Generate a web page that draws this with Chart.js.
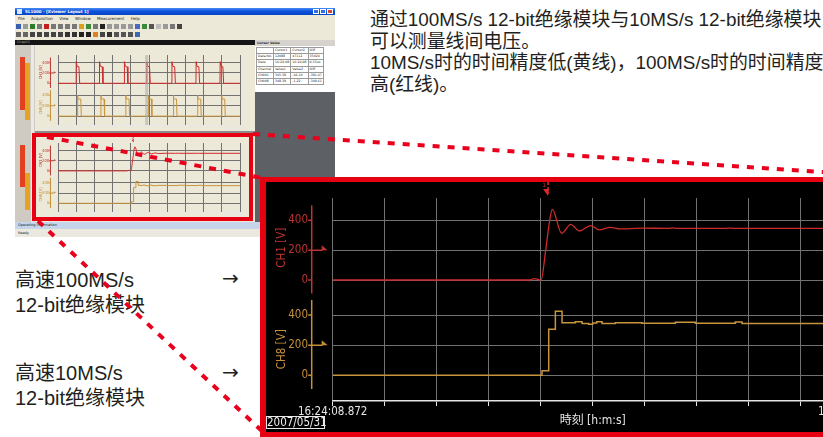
<!DOCTYPE html>
<html>
<head>
<meta charset="utf-8">
<script src="https://cdn.jsdelivr.net/npm/chart.js@4.4.1/dist/chart.umd.min.js"></script>
<style>
html,body{margin:0;padding:0;}
body{width:823px;height:437px;overflow:hidden;background:#fff;position:relative;
  font-family:'Liberation Sans','Noto Sans CJK SC',sans-serif;color:#231f20;}
.abs{position:absolute;}
#note{left:370px;top:9px;font-size:18.9px;line-height:21.7px;white-space:nowrap;}
.lbl{left:15px;font-size:20px;line-height:25px;white-space:nowrap;}
.arrow{left:222px;font-family:'DejaVu Sans',sans-serif;font-size:20px;line-height:20px;}

/* recorder window */
#thumb{left:15px;top:8px;width:320px;height:229px;background:#ece9d8;overflow:hidden;z-index:1;}
#thumb div,#thumb canvas{position:absolute;}
.tbar{left:0;top:0;width:320px;height:7px;background:linear-gradient(#4a8cf5,#0b52dc 45%,#0846c4);
  color:#fff;font:bold 4px 'DejaVu Sans',sans-serif;line-height:7px;padding-left:10px;box-sizing:border-box;}
.tbar .ico{left:2px;top:1px;width:5px;height:5px;background:#d8e4f8;}
.wbtn{top:1px;width:6px;height:5px;border:1px solid #fff;box-sizing:border-box;background:#2f6fe8;}
.menu{left:0;top:7px;width:320px;height:7px;font:4px 'DejaVu Sans',sans-serif;line-height:7px;word-spacing:5px;padding-left:3px;box-sizing:border-box;}
.tools{left:0;height:8px;width:320px;}
.tools span{display:inline-block;width:5px;height:5px;margin:1.5px 1px 0 1px;vertical-align:top;}
.doc{left:0;top:32px;width:240px;height:5px;background:#151515;color:#999;font:3.5px 'DejaVu Sans',sans-serif;line-height:5px;padding-left:2px;box-sizing:border-box;}
.strip{left:0;top:37px;width:20px;height:177px;background:#cfcbc3;}
.meter{width:5px;}
.cpanel{left:240px;top:32px;width:80px;height:52px;background:#fff;font:3.2px 'DejaVu Sans',sans-serif;}
.cpanel table{position:absolute;left:1px;top:7px;border-collapse:collapse;}
.cpanel td{border:0.5px solid #9a9a9a;padding:0 1px;height:5.2px;line-height:5px;white-space:nowrap;}
.chead{left:0;top:0;width:80px;height:6px;background:#d6d3ce;font-weight:bold;line-height:6px;padding-left:2px;box-sizing:border-box;}
.grey{left:240px;top:84px;width:80px;height:130px;background:#5d6064;}
.st1{left:0;top:214px;width:320px;height:7px;background:#c6d5ec;font:3.5px 'DejaVu Sans',sans-serif;line-height:7px;padding-left:3px;box-sizing:border-box;}
.st2{left:0;top:222px;width:320px;height:7px;background:#ebe8e0;font:3.5px 'DejaVu Sans',sans-serif;line-height:7px;padding-left:3px;box-sizing:border-box;}
#focus{left:32px;top:133px;width:221px;height:88px;border:4px solid #e60012;box-sizing:border-box;z-index:2;}

/* enlarged waveform panel */
#panel{left:260px;top:177px;width:600px;height:250px;background:#000;border:solid #e60012;border-width:5px 0 5px 6px;z-index:3;}
#panel canvas{position:absolute;left:0;top:0;}
#dateBox{position:absolute;left:0;top:234px;width:59px;height:13px;border:1px solid #e8e8e8;box-sizing:border-box;
  color:#f0f0f0;font:11.5px 'DejaVu Sans Condensed','DejaVu Sans',sans-serif;line-height:11px;text-align:center;}
#links{left:0;top:0;z-index:4;}
</style>
</head>
<body>

<div id="note" class="abs">通过100MS/s 12-bit绝缘模块与10MS/s 12-bit绝缘模块<br>可以测量线间电压。<br>10MS/s时的时间精度低(黄线)，100MS/s时的时间精度<br>高(红线)。</div>

<div class="abs lbl" style="top:267.5px">高速100MS/s<br>12-bit绝缘模块</div>
<div class="abs lbl" style="top:361px">高速10MS/s<br>12-bit绝缘模块</div>
<div class="abs arrow" style="top:268px">→</div>
<div class="abs arrow" style="top:361.5px">→</div>

<div id="thumb" class="abs">
  <div class="tbar"><div class="ico"></div>SL1000 - [Xviewer Layout 1]
    <div class="wbtn" style="left:298px"></div><div class="wbtn" style="left:305px"></div><div class="wbtn" style="left:312px;background:#d9482a"></div>
  </div>
  <div class="menu">File Acquisition View Window Measurement Help</div>
  <div class="tools" id="tools1" style="top:14px"></div>
  <div class="tools" id="tools2" style="top:22px"></div>
  <div class="doc">Graph1</div>
  <div class="strip">
    <div class="meter" style="left:5px;top:12px;height:53px;background:#e2401f"></div>
    <div class="meter" style="left:10px;top:18px;height:57px;background:#e6a321"></div>
    <div class="meter" style="left:5px;top:100px;height:42px;background:#e2401f"></div>
    <div class="meter" style="left:10px;top:128px;height:37px;background:#e6a321"></div>
    <div style="left:16px;top:0;width:3px;height:177px;background:#ebe9e4"></div>
  </div>
  <canvas id="ovTop" width="217" height="86" style="left:20px;top:37px"></canvas>
  <div style="left:20px;top:123px;width:220px;height:2px;background:#8c8c8c"></div>
  <canvas id="ovBottom" width="217" height="87" style="left:20px;top:125px"></canvas>
  <div class="cpanel">
    <div class="chead">Cursor Value</div>
    <table>
      <tr><td></td><td>Cursor1</td><td>Cursor2</td><td>Diff</td></tr>
      <tr><td>Data No.</td><td>12088</td><td>47112</td><td>35024</td></tr>
      <tr><td>Date</td><td>16:24:08</td><td>16:24:08</td><td>0.35us</td></tr>
      <tr><td>Channel</td><td>Value1</td><td>Value2</td><td>Diff</td></tr>
      <tr><td>CH001</td><td>345.38</td><td>-46.10</td><td>-391.47</td></tr>
      <tr><td>CH008</td><td>348.39</td><td>-1.22</td><td>-349.61</td></tr>
    </table>
  </div>
  <div class="grey"></div>
  <div class="st1">Operating Information</div>
  <div class="st2">Ready</div>
</div>
<div id="focus" class="abs"></div>

<div id="panel" class="abs">
  <canvas id="wave" width="640" height="250"></canvas>
  <div id="dateBox">2007/05/31</div>
</div>

<svg id="links" class="abs" width="823" height="437">
  <g stroke="#e8001c" stroke-width="4" stroke-dasharray="7 8" fill="none">
    <line x1="253" y1="134" x2="823" y2="172"/>
    <line x1="47" y1="137" x2="262" y2="178"/>
    <line x1="38" y1="221" x2="264" y2="433"/>
  </g>
</svg>

<script>
// ---------- waveform data ----------
const timeLabels = ['16:24:08.872', '16:24:08.872'];   // start / end of the time window
const timeDivNs = 780;                                  // one grid division
const timeSpanNs = 7800;                                // ten divisions
const voltTicks = [0, 200, 400];
const ch1Range = [-117, 549];
const ch8Range = [-170, 516];
const axisSpan = [-90, 500];
const levelMark = 200;
const triggerTimeNs = 3230;

// CH1: 100MS/s 12-bit isolation module
const ch1TimeNs = [0, 2960, 3020, 3095, 3125, 3195, 3255, 3294, 3435, 3570, 3699, 3870, 3999, 4160, 4310, 4620, 5040, 5100, 5160, 5900, 5960, 6020, 7800];
const ch1Volts  = [0,    0,   10,    2,    0,  200,  400,  473,  313,  373,  328,  364,  335,  353,  342,  347,  346,  349,  346,  346,  348,  346,  346];

// CH8: 10MS/s 12-bit isolation module (held samples)
const ch8TimeNs = [0, 3140, 3240, 3340, 3440, 3640, 3740, 3840, 3900, 3960, 4040, 4240, 4640, 5140, 5440, 6040, 6140, 7800];
const ch8Volts  = [0,   30,  305,  425,  349,  355,  344,  338,  347,  355,  343,  349,  346,  352,  346,  353,  344,  344];

// overview window: repeated switching pulses
const overviewSpan = 100;
const overviewDiv = 10;
const overviewPulseStarts = [9.9, 22.7, 36.4, 48.7, 62.5, 75.8, 89.0];
const overviewCursor = 48.7;
const pulseCh1Dt = [0, 0.1, 0.6, 1.6, 2.0];
const pulseCh1V  = [0, 420, 330, 320, 0];
const pulseCh8Dt = [0.8, 0.9, 1.1, 2.6, 2.9];
const pulseCh8V  = [0, 400, 330, 330, 0];

// ---------- styling ----------
const CH1_COLOR = '#cf2b2b';
const CH1_TEXT = '#bb3531';
const CH8_COLOR = '#c8953d';
const CH8_TEXT = '#c4903a';
const GRID = '#727272';
const AXIS_WHITE = '#e6e6e6';
const NUM_FONT = "'DejaVu Sans Condensed','DejaVu Sans',sans-serif";

const zip = (xs, ys) => xs.map((x, i) => ({x, y: ys[i]}));

function pulseTrain(dts, vs, span) {
  const pts = [{x: 0, y: 0}];
  overviewPulseStarts.forEach(s => dts.forEach((d, i) => pts.push({x: s + d, y: vs[i]})));
  pts.push({x: span, y: 0});
  return pts;
}

// channel axis lines, level markers and trigger mark drawn beside the plot
const channelAxisPlugin = {
  id: 'channelAxis',
  afterDraw(chart, args, o) {
    const {ctx, chartArea: area} = chart;
    const k = o.k;
    const ax = area.left - 21 * k;
    ctx.save();
    o.channels.forEach(ch => {
      const sc = chart.scales[ch.axis];
      ctx.strokeStyle = ch.color;
      ctx.fillStyle = ch.color;
      ctx.lineWidth = Math.max(1, 1.5 * k);
      ctx.beginPath();
      ctx.moveTo(ax, sc.getPixelForValue(axisSpan[1]));
      ctx.lineTo(ax, sc.getPixelForValue(axisSpan[0]));
      voltTicks.forEach(v => {
        const y = sc.getPixelForValue(v);
        ctx.moveTo(ax - 3.5 * k, y);
        ctx.lineTo(ax, y);
      });
      const ym = sc.getPixelForValue(levelMark);
      ctx.moveTo(ax, ym);
      ctx.lineTo(ax + 11 * k, ym);
      ctx.stroke();
      ctx.beginPath();
      ctx.moveTo(ax + 10 * k, ym);
      ctx.lineTo(ax + 10 * k, ym - 5 * k);
      ctx.lineTo(ax + 16 * k, ym);
      ctx.closePath();
      ctx.fill();
    });
    const xs = chart.scales.x;
    if (o.cursor !== undefined) {
      const xc = xs.getPixelForValue(o.cursor);
      ctx.fillStyle = 'rgba(170,170,170,0.55)';
      ctx.fillRect(xc - 1.5, area.top, 3, area.bottom - area.top);
    }
    if (o.trigger !== undefined) {
      const xt = xs.getPixelForValue(o.trigger);
      ctx.strokeStyle = '#e02828';
      ctx.fillStyle = '#e02828';
      ctx.lineWidth = Math.max(1, 1.5 * k);
      ctx.setLineDash([3 * k, 2 * k]);
      ctx.beginPath();
      ctx.moveTo(xt, area.top - 16 * k);
      ctx.lineTo(xt, area.top - 4 * k);
      ctx.stroke();
      ctx.setLineDash([]);
      ctx.beginPath();
      ctx.moveTo(xt - 5 * k, area.top - 9 * k);
      ctx.lineTo(xt + 1 * k, area.top - 9 * k);
      ctx.lineTo(xt, area.top - 2 * k);
      ctx.closePath();
      ctx.fill();
      ctx.font = `${6 * k}px ${NUM_FONT}`;
      ctx.textAlign = 'right';
      ctx.textBaseline = 'top';
      ctx.fillText('1', xt - 2 * k, area.top - 16 * k);
    }
    ctx.restore();
  }
};

function channelChart(canvas, o) {
  const k = o.k;
  const f = (size) => ({family: NUM_FONT, size: size * k});
  const yAxis = (range, weight, order, color, title) => ({
    type: 'linear', position: 'left', stack: 'ch', stackWeight: weight, weight: order,
    min: range[0], max: range[1],
    afterBuildTicks: s => { s.ticks = voltTicks.map(v => ({value: v})); },
    afterFit: s => { s.width = o.yWidth; s.paddingTop = 0; s.paddingBottom = 0; },
    ticks: {color, font: f(11.5), padding: 24.7 * k, callback: v => String(v)},
    grid: {color: GRID, lineWidth: 1, drawTicks: false},
    border: {display: false},
    title: {display: true, text: title, color, font: f(11.5), padding: {top: 8.8 * k, bottom: 0}}
  });
  return new Chart(canvas, {
    type: 'line',
    data: {datasets: [
      {data: o.ch1, yAxisID: 'yCh1', borderColor: CH1_COLOR, borderWidth: Math.max(1, 1.3 * k),
       pointRadius: 0, cubicInterpolationMode: o.smooth ? 'monotone' : 'default', tension: 0},
      {data: o.ch8, yAxisID: 'yCh8', borderColor: CH8_COLOR, borderWidth: Math.max(1, 1.5 * k),
       pointRadius: 0, stepped: o.stepped ? true : false, tension: 0}
    ]},
    options: {
      responsive: false, animation: false, devicePixelRatio: 1, parsing: false,
      layout: {padding: {top: o.top, right: o.right, left: 0, bottom: 0}},
      plugins: {
        legend: {display: false}, tooltip: {enabled: false},
        channelAxis: {k, cursor: o.cursor, trigger: o.trigger, channels: [
          {axis: 'yCh1', color: CH1_TEXT}, {axis: 'yCh8', color: CH8_TEXT}]}
      },
      scales: {
        x: {
          type: 'linear', min: 0, max: o.span,
          afterFit: s => { s.height = o.xHeight; s.paddingLeft = 0; s.paddingRight = 0; },
          ticks: {stepSize: o.div, autoSkip: false, maxRotation: 0, color: AXIS_WHITE, font: f(11.5), padding: -1 * k,
                  callback: (v, i, t) => i === 0 ? timeLabels[0] : (i === t.length - 1 ? timeLabels[1] : '')},
          grid: {color: GRID, tickColor: AXIS_WHITE, tickLength: 5 * k, lineWidth: 1},
          border: {color: AXIS_WHITE, width: Math.max(1, 1.5 * k)},
          title: {display: o.xTitle, text: '時刻 [h:m:s]', color: AXIS_WHITE,
                  font: {family: "'DejaVu Sans Condensed','Noto Sans CJK JP',sans-serif", size: 12 * k},
                  padding: {top: 0, bottom: 3.5 * k}}
        },
        yCh8: yAxis(ch8Range, 103.5, 0, CH8_TEXT, 'CH8 [V]'),
        yCh1: yAxis(ch1Range, 99.5, 1, CH1_TEXT, 'CH1 [V]')
      }
    },
    plugins: [channelAxisPlugin]
  });
}

// enlarged view
channelChart(document.getElementById('wave'), {
  k: 1, top: 16, right: 53.3, yWidth: 66.7, xHeight: 31, xTitle: true,
  span: timeSpanNs, div: timeDivNs, smooth: true, stepped: true, trigger: triggerTimeNs,
  ch1: zip(ch1TimeNs, ch1Volts), ch8: zip(ch8TimeNs, ch8Volts)
});

// recorder window: overview and zoomed windows
channelChart(document.getElementById('ovTop'), {
  k: 0.36, top: 10, right: 12, yWidth: 23, xHeight: 6, xTitle: false,
  span: overviewSpan, div: overviewDiv, smooth: false, stepped: false, cursor: overviewCursor,
  ch1: pulseTrain(pulseCh1Dt, pulseCh1V, overviewSpan), ch8: pulseTrain(pulseCh8Dt, pulseCh8V, overviewSpan)
});
channelChart(document.getElementById('ovBottom'), {
  k: 0.36, top: 10, right: 12, yWidth: 23, xHeight: 8, xTitle: false,
  span: timeSpanNs, div: timeDivNs, smooth: true, stepped: true, trigger: triggerTimeNs,
  ch1: zip(ch1TimeNs, ch1Volts), ch8: zip(ch8TimeNs, ch8Volts)
});

// toolbar buttons of the recorder window
const toolColors1 = ['#3a5fb0','#9a9a9a','#2c7a2c','#777','#c02020','#777','#777','#777','#777','#d9a020','#3a8a3a','#777','#222','#999','#999','#999','#999','#4a6ac0','#3a8a3a','#555','#bbb','#999','#777','#444'];
const toolColors2 = ['#666','#666','#444','#444','#444','#444','#444','#333','#333','#222','#222','#e08020','#444','#333','#555','#555','#555','#3a6ab0'];
[['tools1', toolColors1], ['tools2', toolColors2]].forEach(([id, cols]) => {
  const el = document.getElementById(id);
  cols.forEach(c => { const s = document.createElement('span'); s.style.background = c; el.appendChild(s); });
});
</script>
</body>
</html>
